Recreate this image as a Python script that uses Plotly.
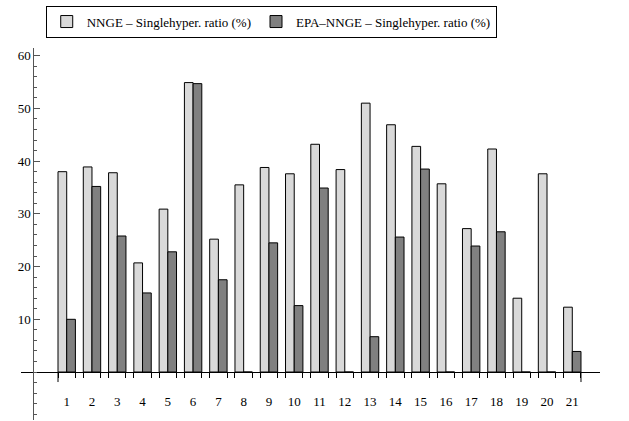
import plotly.graph_objects as go

categories = list(range(1, 22))
nnge = [38.0, 38.9, 37.8, 20.7, 30.9, 54.9, 25.2, 35.5, 38.8, 37.6, 43.2,
        38.4, 51.0, 46.9, 42.8, 35.7, 27.2, 42.3, 14.0, 37.6, 12.3]
epa_nnge = [10.0, 35.2, 25.8, 15.0, 22.8, 54.7, 17.5, 0, 24.5, 12.6, 34.9,
            0, 6.7, 25.6, 38.5, 0, 23.9, 26.6, 0, 0, 3.9]
y_ticks = [10, 20, 30, 40, 50, 60]
names = ["NNGE – Singlehyper. ratio (%)", "EPA–NNGE – Singlehyper. ratio (%)"]

FONT = "Liberation Serif"
bargap = 0.312
half = (1 - bargap) / 2
xr = [-0.808, 22.096]
yr = [-9.10, 61.46]

fig = go.Figure()
fig.add_bar(x=categories, y=nnge, name=names[0],
            marker=dict(color="#d9d9d9", line=dict(color="black", width=1)))
fig.add_bar(x=categories, y=epa_nnge, name=names[1],
            marker=dict(color="#808080", line=dict(color="black", width=1)))

edges = []
for c in categories:
    edges += [c - half, c + half]

for xe in (edges[0], edges[-1]):
    fig.add_shape(type="line", xref="x", yref="y", x0=xe, x1=xe, y0=0, y1=-1.9,
                  line=dict(color="black", width=1))

fig.update_layout(
    width=629, height=421,
    margin=dict(l=21, r=29, t=48, b=1),
    plot_bgcolor="white", paper_bgcolor="white",
    barmode="group", bargap=bargap, bargroupgap=0,
    font=dict(family=FONT, size=13, color="black"),
    showlegend=True,
    legend=dict(orientation="h", x=0.0427, xanchor="left", y=1.114, yanchor="top",
                bordercolor="black", borderwidth=1, bgcolor="white",
                font=dict(family=FONT, size=13),
                traceorder="normal"),
    xaxis=dict(range=xr, anchor="free", position=(0 - yr[0]) / (yr[1] - yr[0]),
               showline=True, linecolor="black", linewidth=1,
               showgrid=False, zeroline=False,
               tickmode="array", tickvals=categories,
               ticktext=[str(c) for c in categories],
               tickfont=dict(family=FONT, size=13),
               ticks="", ticklabelstandoff=17,
               minor=dict(tickmode="array", tickvals=edges, ticks="outside",
                          ticklen=5, tickcolor="black", tickwidth=1)),
    yaxis=dict(range=yr, anchor="free", position=(-0.321 - xr[0]) / (xr[1] - xr[0]),
               showline=True, linecolor="#555555", linewidth=1,
               showgrid=False, zeroline=False,
               tickmode="array", tickvals=y_ticks,
               tickfont=dict(family=FONT, size=13),
               ticks="inside", ticklen=6, tickcolor="#555555",
               minor=dict(dtick=2, tick0=0, ticks="inside", ticklen=3,
                          tickcolor="#555555", tickwidth=1)),
)

fig.write_html("out.html", config={"displayModeBar": False},
               post_script="document.body.style.margin='0';")
